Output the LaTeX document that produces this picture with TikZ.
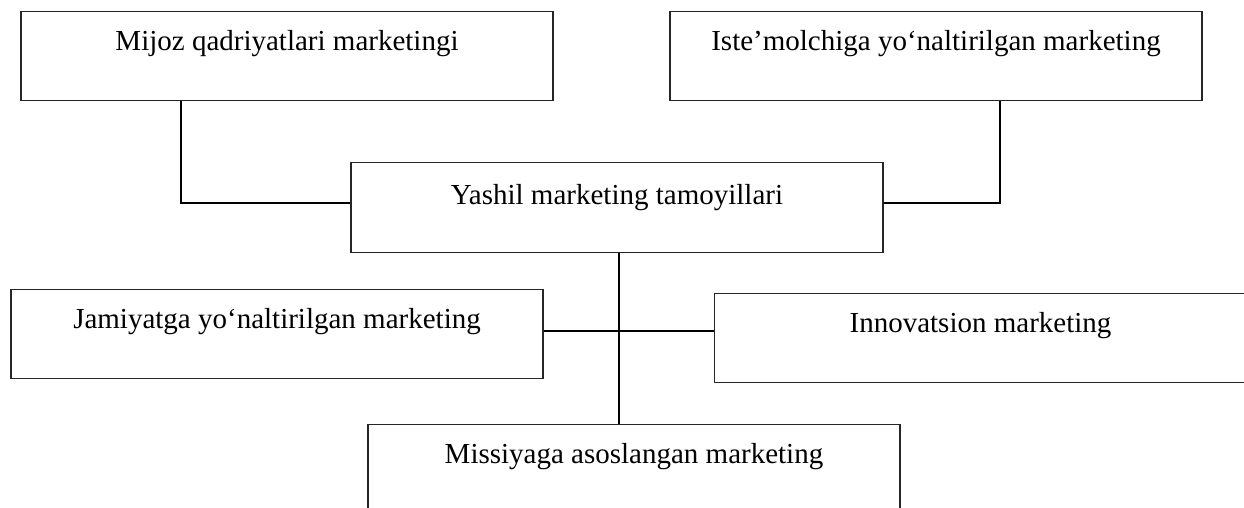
\documentclass[tikz,border=0pt]{standalone}
\usepackage{fontspec}
\setmainfont{Liberation Serif}
\begin{document}
\begin{tikzpicture}[x=0.5pt,y=-0.5pt,
  box/.style={draw=black!85, line width=0.6pt, inner sep=0pt, minimum width=266pt,
    text height=19.5pt, text depth=25pt, anchor=north,
    font=\fontsize{14.5pt}{17pt}\selectfont},
  link/.style={draw=black, line width=0.8pt}]
\useasboundingbox (0,0) rectangle (1244,508);
\clip (0,0) rectangle (1244,508);
\node[box] (mijoz) at (287,11) {Mijoz qadriyatlari marketingi};
\node[box] (iste) at (936,11) {Iste’molchiga yo‘naltirilgan marketing};
\node[box, text height=21pt, text depth=24pt] (yashil) at (617,162) {Yashil marketing tamoyillari};
\node[box] (jamiyat) at (277,289) {Jamiyatga yo‘naltirilgan marketing};
\node[box] (innov) at (980.5,293) {Innovatsion marketing};
\node[box] (missiya) at (634,424) {Missiyaga asoslangan marketing};
\coordinate (ja) at (181,203);
\coordinate (jb) at (1000,203);
\coordinate (jc) at (619,331);
\draw[link] (mijoz.south -| ja) |- (yashil.west |- ja);
\draw[link] (iste.south -| jb) |- (yashil.east |- jb);
\draw[link] (yashil.south -| jc) -- (missiya.north -| jc);
\draw[link] (jamiyat.east |- jc) -- (innov.west |- jc);
\end{tikzpicture}
\end{document}
